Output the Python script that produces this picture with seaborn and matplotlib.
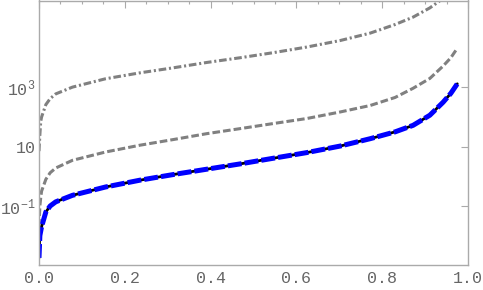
import numpy as np
import pandas as pd
import matplotlib
matplotlib.use("Agg")
import matplotlib.pyplot as plt
import matplotlib.ticker as mticker
import seaborn as sns

# curve samples (x, y on a log axis)
x_blue = [0.0, 0.002, 0.006, 0.016, 0.026, 0.039, 0.078, 0.155, 0.235, 0.313, 0.391,
          0.469, 0.546, 0.624, 0.702, 0.772, 0.830, 0.872, 0.911, 0.942, 0.960, 0.975]
y_blue = [0.00178, 0.01, 0.020, 0.063, 0.10, 0.138, 0.229, 0.437, 0.741, 1.15, 1.74,
          2.63, 4.07, 6.31, 10.5, 18.6, 31.6, 52.5, 115, 316, 631, 1320]

x_dash = [0.0, 0.002, 0.004, 0.006, 0.016, 0.026, 0.039, 0.078, 0.155, 0.235, 0.313, 0.391,
          0.469, 0.546, 0.624, 0.702, 0.772, 0.830, 0.872, 0.911, 0.942, 0.960, 0.975]
y_dash = [0.020, 0.10, 0.19, 0.316, 0.794, 1.32, 1.91, 3.47, 6.61, 11.2, 17.4, 27.5,
          40.7, 60.3, 89.1, 148, 245, 457, 933, 2000, 5250, 10000, 20900]

x_dashdot = [0.0, 0.002, 0.004, 0.006, 0.016, 0.026, 0.039, 0.078, 0.155, 0.235, 0.313, 0.391,
             0.469, 0.546, 0.624, 0.702, 0.772, 0.830, 0.872, 0.911, 0.942, 0.960, 0.975]
y_dashdot = [7.08, 25.1, 70.8, 100, 263, 417, 603, 1020, 1950, 3090, 4570, 6920,
             10000, 14800, 22900, 38000, 67600, 132000, 234000, 479000, 1.0e6, 2.24e6, 5.01e6]

y_ticks = [1e-1, 1e1, 1e3]
y_tick_labels = [r"$10^{-1}$", "10", r"$10^{3}$"]
x_ticks = [0.0, 0.2, 0.4, 0.6, 0.8, 1.0]
x_tick_labels = ["0.0", "0.2", "0.4", "0.6", "0.8", "1.0"]

sns.set_style("white")
plt.rcParams["font.family"] = ["Liberation Mono", "DejaVu Sans Mono"]
plt.rcParams["mathtext.fontset"] = "custom"
plt.rcParams["mathtext.rm"] = "Liberation Mono"
plt.rcParams["mathtext.it"] = "Liberation Mono"
plt.rcParams["lines.scale_dashes"] = False

fig = plt.figure(figsize=(4.83, 2.90), dpi=100)
ax = fig.add_axes([39 / 483, 25 / 290, 429 / 483, 264.5 / 290])

gray = "#808080"
sns.lineplot(x=x_dashdot, y=y_dashdot, ax=ax, color=gray, linewidth=2.2,
             linestyle=(0, (5.5, 2.0, 1.5, 2.0)))
sns.lineplot(x=x_dash, y=y_dash, ax=ax, color=gray, linewidth=2.2,
             linestyle=(0, (5.5, 2.2)))
sns.lineplot(x=x_blue, y=y_blue, ax=ax, color="black", linewidth=2.0)
sns.lineplot(x=x_blue, y=y_blue, ax=ax, color="#0000FF", linewidth=3.6,
             linestyle=(0, (10, 2.2)))

ax.set_yscale("log")
ax.set_xlim(0, 1)
ax.set_ylim(10 ** -2.99, 10 ** 5.93)

ax.set_xticks(x_ticks)
ax.set_xticklabels(x_tick_labels)
ax.xaxis.set_minor_locator(mticker.MultipleLocator(0.05))
ax.set_yticks(y_ticks)
ax.set_yticklabels(y_tick_labels)
ax.yaxis.set_minor_locator(mticker.NullLocator())

frame = "#aaaaaa"
for s in ax.spines.values():
    s.set_color(frame)
    s.set_linewidth(1.0)
ax.tick_params(which="both", direction="in", top=True, right=True,
               color=frame, width=0.8, labelcolor="#666666", labelsize=12)
ax.tick_params(which="major", length=5)
ax.tick_params(which="minor", length=2.5)
ax.tick_params(axis="x", pad=4)
ax.tick_params(axis="y", pad=2.5)
ax.set_xlabel("")
ax.set_ylabel("")
ax.grid(False)

fig.savefig("out.png", dpi=100)
